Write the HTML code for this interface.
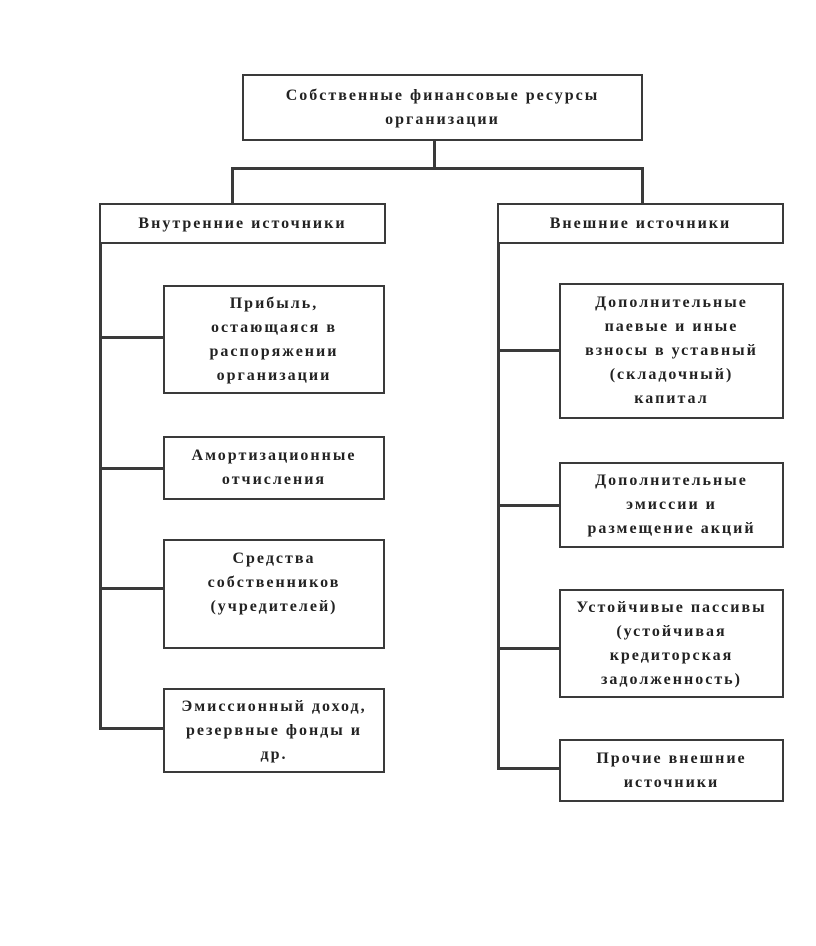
<!DOCTYPE html>
<html><head><meta charset="utf-8"><style>
body{margin:0;background:#fff;width:816px;height:946px;position:relative;overflow:hidden}
.b{position:absolute;border:2.5px solid #3a3a3a;box-sizing:border-box;display:flex;align-items:center;justify-content:center;text-align:center;font-family:"Liberation Serif",serif;font-size:16px;line-height:24px;color:#222;font-weight:bold;letter-spacing:2px;white-space:nowrap}
.l{position:absolute;background:#3a3a3a}
</style></head><body>
<div class="b" style="left:242px;top:74px;width:401px;height:67px">Собственные финансовые ресурсы<br>организации</div>
<div class="l" style="left:433px;top:140px;width:3px;height:30px"></div>
<div class="l" style="left:231px;top:167px;width:413px;height:3px"></div>
<div class="l" style="left:231px;top:167px;width:3px;height:37px"></div>
<div class="l" style="left:641px;top:167px;width:3px;height:37px"></div>
<div class="b" style="left:99px;top:203px;width:287px;height:41px">Внутренние источники</div>
<div class="b" style="left:497px;top:203px;width:287px;height:41px">Внешние источники</div>
<div class="l" style="left:99px;top:243px;width:3px;height:487px"></div>
<div class="l" style="left:99px;top:336px;width:66px;height:3px"></div>
<div class="l" style="left:99px;top:467px;width:66px;height:3px"></div>
<div class="l" style="left:99px;top:587px;width:66px;height:3px"></div>
<div class="l" style="left:99px;top:727px;width:66px;height:3px"></div>
<div class="b" style="left:163px;top:285px;width:222px;height:109px">Прибыль,<br>остающаяся в<br>распоряжении<br>организации</div>
<div class="b" style="left:163px;top:436px;width:222px;height:64px">Амортизационные<br>отчисления</div>
<div class="b" style="left:163px;top:539px;width:222px;height:110px;align-items:flex-start;padding-top:6px">Средства<br>собственников<br>(учредителей)</div>
<div class="b" style="left:163px;top:688px;width:222px;height:85px">Эмиссионный доход,<br>резервные фонды и<br>др.</div>
<div class="l" style="left:497px;top:243px;width:3px;height:527px"></div>
<div class="l" style="left:497px;top:349px;width:64px;height:3px"></div>
<div class="l" style="left:497px;top:504px;width:64px;height:3px"></div>
<div class="l" style="left:497px;top:647px;width:64px;height:3px"></div>
<div class="l" style="left:497px;top:767px;width:64px;height:3px"></div>
<div class="b" style="left:559px;top:283px;width:225px;height:136px">Дополнительные<br>паевые и иные<br>взносы в уставный<br>(складочный)<br>капитал</div>
<div class="b" style="left:559px;top:462px;width:225px;height:86px">Дополнительные<br>эмиссии и<br>размещение акций</div>
<div class="b" style="left:559px;top:589px;width:225px;height:109px">Устойчивые пассивы<br>(устойчивая<br>кредиторская<br>задолженность)</div>
<div class="b" style="left:559px;top:739px;width:225px;height:63px">Прочие внешние<br>источники</div>
</body></html>
